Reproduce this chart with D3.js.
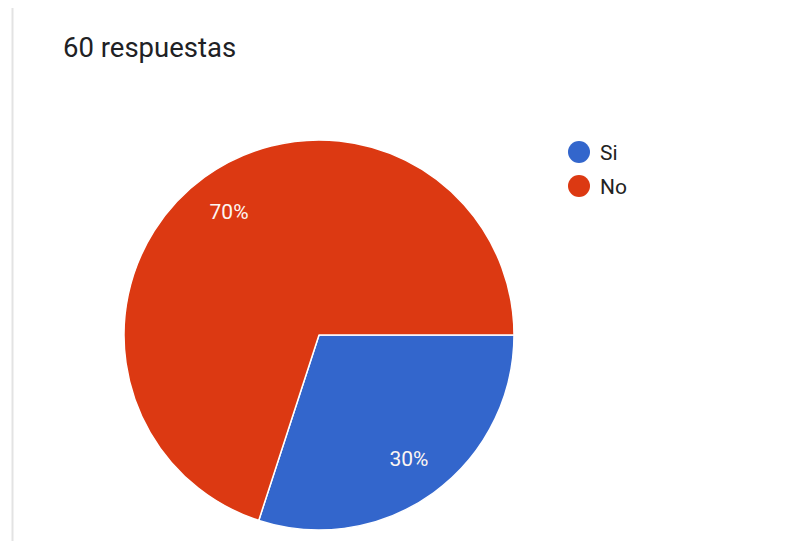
<!DOCTYPE html>
<html>
<head>
<meta charset="utf-8">
<script src="https://cdn.jsdelivr.net/npm/d3@7"></script>
<style>
  html, body { margin: 0; padding: 0; background: #fff; }
  svg { display: block; font-family: Roboto, "Noto Sans", Arial, sans-serif; }
</style>
</head>
<body>
<svg id="chart" width="803" height="541"></svg>
<script>
// Survey answers
const title = "60 respuestas";
const categories = ["Si", "No"];
const values = [30, 70];
const colors = ["#3366cc", "#dc3912"];

const svg = d3.select("#chart");
const W = 803, H = 541;

// card edge on the left
svg.append("rect")
  .attr("x", 11.5).attr("y", 8)
  .attr("width", 2).attr("height", H - 8)
  .attr("fill", "#e3e3e3");

svg.append("text")
  .attr("x", 63).attr("y", 57)
  .attr("font-size", 27.5)
  .attr("fill", "#202124")
  .text(title);

const cx = 319, cy = 335, r = 195, labelR = 153;

const color = d3.scaleOrdinal().domain(categories).range(colors);
const total = d3.sum(values);

const pie = d3.pie()
  .sort(null)
  .value(d => d.value)
  .startAngle(Math.PI / 2)
  .endAngle(Math.PI / 2 + 2 * Math.PI);

const data = categories.map((c, i) => ({ name: c, value: values[i] }));
const arcs = pie(data);

const arc = d3.arc().innerRadius(0).outerRadius(r);
const labelArc = d3.arc().innerRadius(labelR).outerRadius(labelR);

const g = svg.append("g").attr("transform", `translate(${cx},${cy})`);

g.selectAll("path.slice")
  .data(arcs)
  .join("path")
  .attr("class", "slice")
  .attr("d", arc)
  .attr("fill", d => color(d.data.name))
  .attr("stroke", "#fff")
  .attr("stroke-width", 1.5)
  .attr("stroke-linejoin", "round");

g.selectAll("text.pct")
  .data(arcs)
  .join("text")
  .attr("class", "pct")
  .attr("transform", d => `translate(${labelArc.centroid(d)})`)
  .attr("text-anchor", "middle")
  .attr("dy", "0.35em")
  .attr("font-size", 21)
  .attr("fill", "#fdf6f2")
  .text(d => Math.round(d.data.value / total * 100) + "%");

// legend
const legend = svg.append("g").attr("transform", "translate(579,152)");
const item = legend.selectAll("g.item")
  .data(categories)
  .join("g")
  .attr("class", "item")
  .attr("transform", (d, i) => `translate(0,${i * 34})`);

item.append("circle")
  .attr("r", 11)
  .attr("fill", d => color(d));

item.append("text")
  .attr("x", 21)
  .attr("dy", "0.36em")
  .attr("font-size", 21)
  .attr("fill", "#222")
  .text(d => d);
</script>
</body>
</html>
